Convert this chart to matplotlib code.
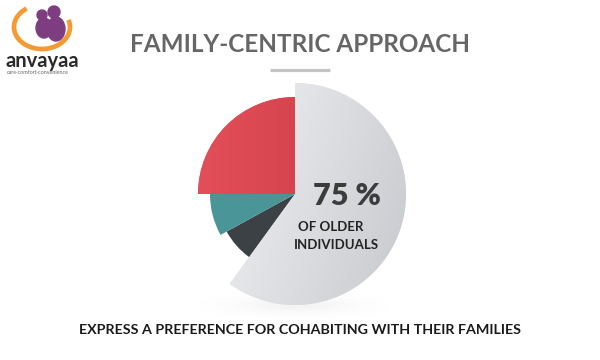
import numpy as np
import matplotlib.pyplot as plt
from matplotlib.patches import Circle, Ellipse, Arc

# %% data
shares = [60, 7, 8, 25]  # clockwise from 12 o'clock
share_names = ["Cohabiting with family", "Other A", "Other B", "Other C"]
headline_value = "75 %"
headline_lines = ["OF OLDER", "INDIVIDUALS"]
title = "FAMILY-CENTRIC APPROACH"
caption = "EXPRESS A PREFERENCE FOR COHABITING WITH THEIR FAMILIES"

# style
colors = ["#dfe1e3", "#3b4145", "#4a9598", "#dd4a52"]
radii = [111, 78, 85, 97]
cx, cy = 295, 166

plt.rcParams['font.family'] = ['Lato', 'DejaVu Sans']

fig = plt.figure(figsize=(6, 3.6), dpi=100)
ax = fig.add_axes([0, 0, 1, 1])

# %% soft shadow under the pie
sx, sy = np.meshgrid(np.linspace(-1, 1, 200), np.linspace(-1, 1, 80))
blob = np.exp(-(sx**2 * 3 + sy**2 * 6))
shadow = np.zeros((80, 200, 4))
shadow[..., :3] = 0.6
shadow[..., 3] = 0.12 * blob
ax.imshow(shadow, extent=(cx - 95, cx + 95, 35, 75), origin='lower', zorder=1)

# %% pie with different radius per slice
wedges, _ = ax.pie(shares, colors=colors, startangle=90, counterclock=False,
                   center=(cx, cy), radius=1,
                   wedgeprops=dict(linewidth=0))
for w, r in zip(wedges, radii):
    w.set_radius(r)
    w.set_zorder(2)

# grey gradient on the big slice
gx, gy = np.meshgrid(np.linspace(0, 1, 256), np.linspace(0, 1, 256))
t = np.clip(0.8 * gx + 0.25 * (1 - gy) - 0.1, 0, 1)
c0 = np.array([0.95, 0.955, 0.96])
c1 = np.array([0.77, 0.78, 0.80])
img = c0 + (c1 - c0) * t[..., None]
R = radii[0]
im = ax.imshow(img, extent=(cx - R, cx + R, cy - R, cy + R), origin='lower', zorder=3)
im.set_clip_path(wedges[0])

# red gradient
t2 = np.linspace(0, 1, 256)[None, :].repeat(4, axis=0)
r0 = np.array([0.89, 0.31, 0.35])
r1 = np.array([0.84, 0.27, 0.31])
img2 = r0 + (r1 - r0) * t2[..., None]
R = radii[3]
im2 = ax.imshow(img2, extent=(cx - R, cx, cy, cy + R), origin='lower', aspect='auto', zorder=3)
im2.set_clip_path(wedges[3])

# %% texts
ax.text(cx + 52, 164, headline_value, ha='center', va='center', fontsize=22,
        fontweight='heavy', color='#3c3c3c', zorder=5)
ax.text(cx + 36, 133, headline_lines[0], ha='center', va='center', fontsize=9.5,
        fontweight='bold', color='#222222', zorder=5)
ax.text(cx + 41, 115, headline_lines[1], ha='center', va='center', fontsize=9.5,
        fontweight='bold', color='#222222', zorder=5)

ax.text(300, 315, title, ha='center', va='center', fontsize=17.5,
        fontweight='bold', color='#666666')
ax.plot([270, 330], [290, 290], color='#c4c4c4', lw=2.3, solid_capstyle='butt')

ax.text(300, 30, caption, ha='center', va='center', fontsize=10.3,
        fontweight='bold', color='#1a1a1a')

# %% logo
ax.add_patch(Arc((42, 333), 56, 44, theta1=130, theta2=375, lw=3.4, color='#f39a33'))
ax.add_patch(Ellipse((44, 332), 16, 20, color='#7e3d80'))
ax.add_patch(Ellipse((56, 331), 18, 24, color='#7e3d80'))
ax.add_patch(Circle((42, 345), 5, color='#7e3d80'))
ax.add_patch(Circle((54, 348), 6, color='#7e3d80'))
ax.text(5, 299, "anvayaa", ha='left', va='center', fontsize=14.5, fontweight='bold',
        color='#2a2a2a')
ax.text(7, 288, "care·comfort·convenience", ha='left', va='center', fontsize=3.9,
        color='#666666')

ax.set_xlim(0, 600)
ax.set_ylim(0, 360)
ax.set_aspect('auto')
ax.axis('off')

fig.savefig('out.png', dpi=100)
